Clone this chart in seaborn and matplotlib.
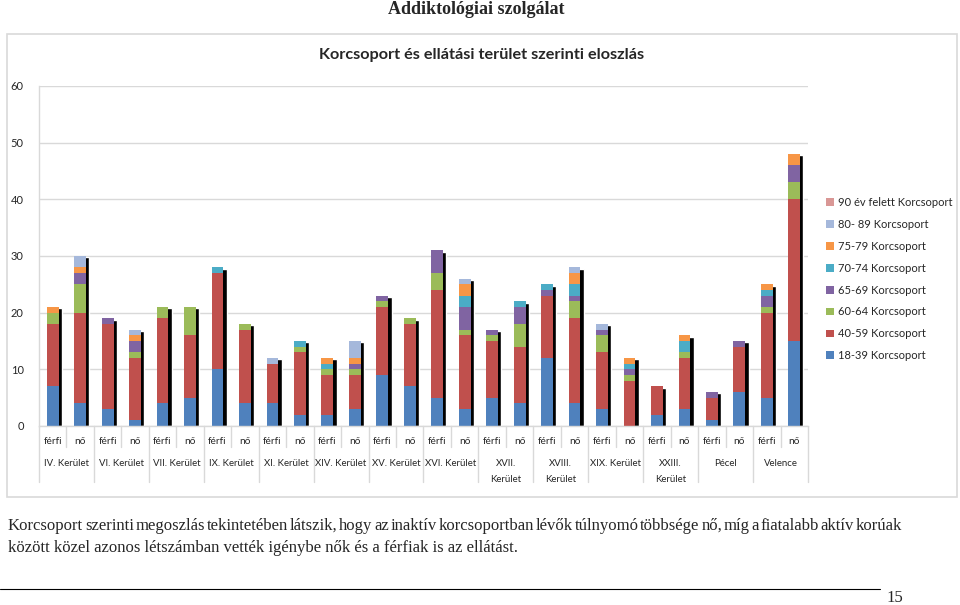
import numpy as np
import pandas as pd
import seaborn as sns
import matplotlib.pyplot as plt
from matplotlib.patches import Patch, Rectangle
from matplotlib.lines import Line2D
import matplotlib.transforms as mtransforms

sns.set_theme(style='white')
plt.rcParams['font.family'] = ['Lato', 'DejaVu Sans']

# Data
districts = ['IV. Kerület', 'VI. Kerület', 'VII. Kerület', 'IX. Kerület', 'XI. Kerület',
             'XIV. Kerület', 'XV. Kerület', 'XVI. Kerület', 'XVII.\nKerület', 'XVIII.\nKerület',
             'XIX. Kerület', 'XXIII.\nKerület', 'Pécel', 'Velence']
sexes = ['férfi', 'nő']

k18_39 = [7, 4, 3, 1, 4, 5, 10, 4, 4, 2, 2, 3, 9, 7, 5, 3, 5, 4, 12, 4, 3, 0, 2, 3, 1, 6, 5, 15]
k40_59 = [11, 16, 15, 11, 15, 11, 17, 13, 7, 11, 7, 6, 12, 11, 19, 13, 10, 10, 11, 15, 10, 8, 5, 9, 4, 8, 15, 25]
k60_64 = [2, 5, 0, 1, 2, 5, 0, 1, 0, 1, 1, 1, 1, 1, 3, 1, 1, 4, 0, 3, 3, 1, 0, 1, 0, 0, 1, 3]
k65_69 = [0, 2, 1, 2, 0, 0, 0, 0, 0, 0, 0, 1, 1, 0, 4, 4, 1, 3, 1, 1, 1, 1, 0, 0, 1, 1, 2, 3]
k70_74 = [0, 0, 0, 0, 0, 0, 1, 0, 0, 1, 1, 0, 0, 0, 0, 2, 0, 1, 1, 2, 0, 1, 0, 2, 0, 0, 1, 0]
k75_79 = [1, 1, 0, 1, 0, 0, 0, 0, 0, 0, 1, 1, 0, 0, 0, 2, 0, 0, 0, 2, 0, 1, 0, 1, 0, 0, 1, 2]
k80_89 = [0, 2, 0, 1, 0, 0, 0, 0, 1, 0, 0, 3, 0, 0, 0, 1, 0, 0, 0, 1, 1, 0, 0, 0, 0, 0, 0, 0]
k90 = [0] * 28

series_names = ['18-39 Korcsoport', '40-59 Korcsoport', '60-64 Korcsoport', '65-69 Korcsoport',
                '70-74 Korcsoport', '75-79 Korcsoport', '80- 89 Korcsoport', '90 év felett Korcsoport']
series_vals = [k18_39, k40_59, k60_64, k65_69, k70_74, k75_79, k80_89, k90]
colors = ['#4F81BD', '#C0504D', '#9BBB59', '#8064A2', '#4BACC6', '#F79646', '#A5B8DB', '#D99795']

n = len(k18_39)
bars = np.arange(n)
cum = np.cumsum(np.array(series_vals), axis=0)
total = cum[-1]

df = pd.DataFrame({'bar': np.tile(bars, len(series_names)),
                   'series': np.repeat(series_names, n),
                   'cum': cum.ravel()})

fig = plt.figure(figsize=(9.6, 6.05), dpi=100)
W, H = 960, 605

def fx(px):
    return px / W

def fy(py):
    return 1 - py / H

# chart frame
fig.patches.append(Rectangle((fx(7), fy(497)), fx(950), (497 - 34) / H, transform=fig.transFigure,
                             fill=False, edgecolor='#D9D9D9', linewidth=1.2))

ax = fig.add_axes([fx(39), fy(426), fx(769), (426 - 86) / H])
bw = 0.43

# shadow behind each stack
ax.bar(bars + 0.12, total - 0.25, width=bw, color='black', zorder=1)

# stacked bars: draw the tallest cumulative layer first
for name, col in reversed(list(zip(series_names, colors))):
    sub = df[df['series'] == name]
    sns.barplot(data=sub, x='bar', y='cum', order=list(bars), color=col, saturation=1,
                width=bw, ax=ax, zorder=2, linewidth=0)

ax.set_ylim(0, 60)
ax.set_xlim(-0.5, n - 0.5)
ax.set_yticks(range(0, 61, 10))
ax.set_xticks([])
ax.set_xlabel('')
ax.set_ylabel('')
ax.yaxis.grid(True, color='#D9D9D9', linewidth=1)
ax.set_axisbelow(True)
for s in ['top', 'right']:
    ax.spines[s].set_visible(False)
for s in ['left', 'bottom']:
    ax.spines[s].set_color('#D9D9D9')
    ax.spines[s].set_linewidth(1)
ax.tick_params(axis='y', labelsize=8, colors='#262626', length=3, color='#BFBFBF', pad=8)

# two level category axis
trans = mtransforms.blended_transform_factory(ax.transData, ax.transAxes)
px_y = 1 / 340
for i in bars:
    ax.text(i, -15 * px_y, sexes[i % 2], transform=trans, ha='center', va='center',
            fontsize=7.3, color='#262626')
for d, name in enumerate(districts):
    lines = name.split('\n')
    for j, ln in enumerate(lines):
        ax.text(2 * d + 0.5, -(38 + 16 * j) * px_y, ln, transform=trans, ha='center',
                va='center', fontsize=6.9, color='#262626')
for k in range(n + 1):
    depth = 56 if k % 2 == 0 else 21
    ax.add_line(Line2D([k - 0.5, k - 0.5], [0, -depth * px_y], transform=trans,
                       color='#D9D9D9', linewidth=1, clip_on=False))

# legend
handles = [Patch(facecolor=c, edgecolor='none', label=s)
           for s, c in reversed(list(zip(series_names, colors)))]
fig.legend(handles=handles, loc='upper left', bbox_to_anchor=(fx(826), fy(197)),
           frameon=False, fontsize=8, handlelength=0.7, handleheight=0.7,
           handletextpad=0.4, labelspacing=0.98, borderaxespad=0, borderpad=0)

# titles
fig.text(fx(476), fy(9), 'Addiktológiai szolgálat', ha='center', va='center',
         fontsize=13, fontweight='bold', family='Liberation Serif')
fig.text(fx(482), fy(55), 'Korcsoport és ellátási terület szerinti eloszlás', ha='center',
         va='center', fontsize=11.7, fontweight='bold')

# paragraph below the chart (first line justified)
line1 = ('Korcsoport szerinti megoszlás tekintetében látszik, hogy az inaktív korcsoportban '
         'lévők túlnyomó többsége nő, míg a fiatalabb aktív korúak')
line2 = 'között közel azonos létszámban vették igénybe nők és a férfiak is az ellátást.'
renderer = fig.canvas.get_renderer()
words = line1.split(' ')
arts = [fig.text(0, fy(526), w, ha='left', va='center', fontsize=12, family='Liberation Serif')
        for w in words]
widths = [a.get_window_extent(renderer).width for a in arts]
gap = (902 - 8 - sum(widths)) / (len(words) - 1)
x = 8
for a, w in zip(arts, widths):
    a.set_x(fx(x))
    x += w + gap
fig.text(fx(8), fy(548), line2, ha='left', va='center', fontsize=12, family='Liberation Serif')

fig.add_artist(Line2D([0, fx(880)], [fy(589), fy(589)], color='black', linewidth=0.8))
fig.text(fx(886), fy(598), '15', ha='left', va='center', fontsize=12, family='Liberation Serif')

fig.savefig('out.png', dpi=100)
